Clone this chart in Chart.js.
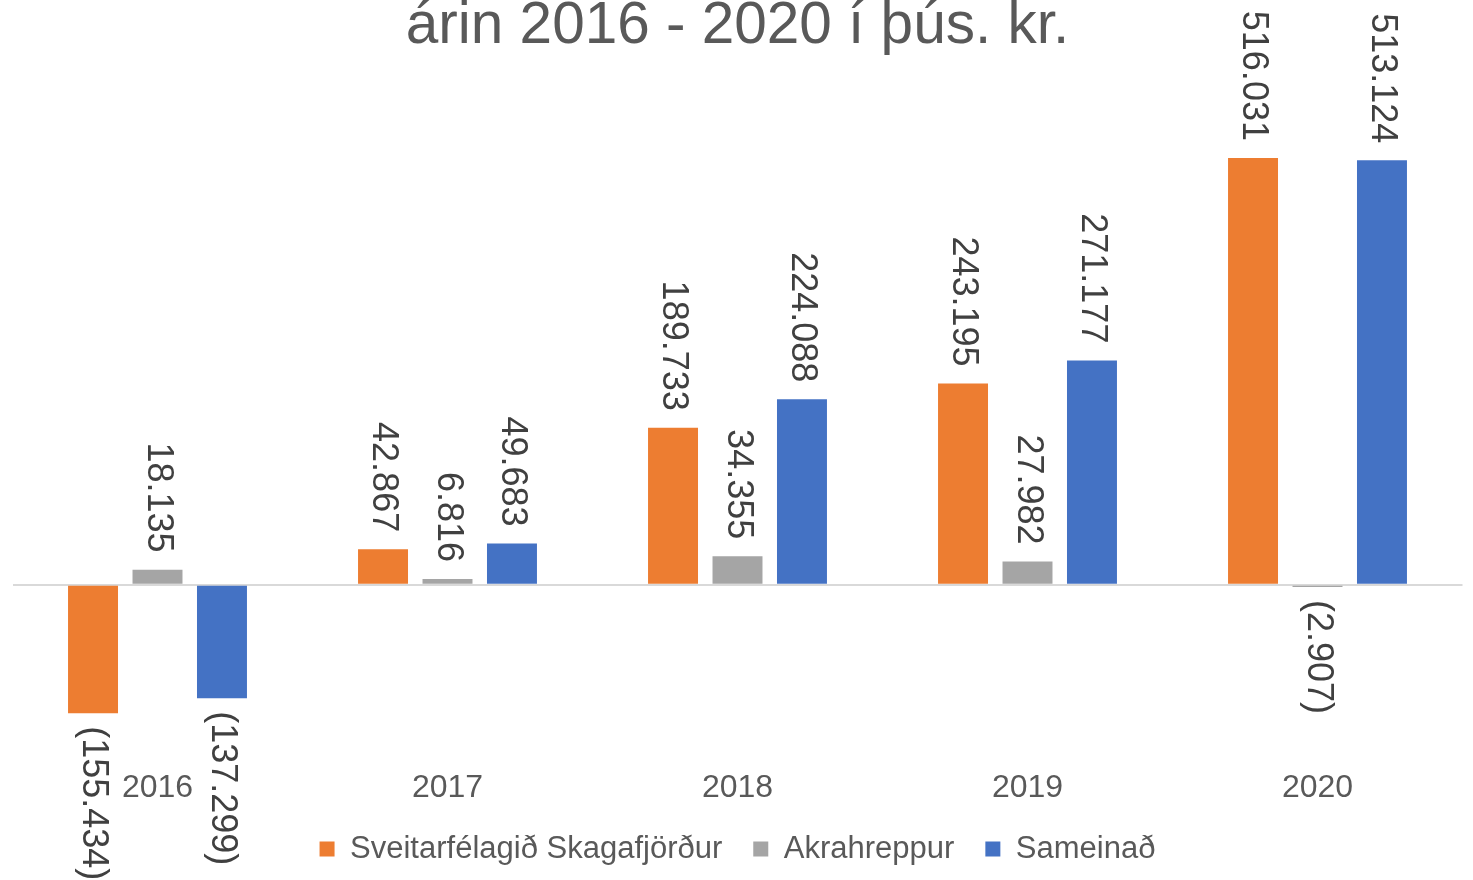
<!DOCTYPE html>
<html><head><meta charset="utf-8">
<script src="https://cdn.jsdelivr.net/npm/chart.js@4"></script>
<style>html,body{margin:0;padding:0;background:#fff}#wrap{width:1473px;height:880px}</style>
</head><body><div id="wrap"><canvas id="c" width="1473" height="880"></canvas></div>
<script>
const titleText = 'árin 2016 - 2020 í þús. kr.';
const categories = ['2016', '2017', '2018', '2019', '2020'];
const seriesNames = ['Sveitarfélagið Skagafjörður', 'Akrahreppur', 'Sameinað'];
const skagafjordur = [-155434, 42867, 189733, 243195, 516031];
const akrahreppur = [18135, 6816, 34355, 27982, -2907];
const sameinad = [-137299, 49683, 224088, 271177, 513124];
const seriesColors = ['#ED7D31', '#A5A5A5', '#4472C4'];
const yMin = -200000, yMax = 600000;

const FONT = '"Liberation Sans", Arial, sans-serif';
const X_AXIS_HEIGHT = 52.5;
const LEGEND_HEIGHT = 77.5;

function fmt(v) {
  const s = Math.abs(v).toString().replace(/\B(?=(\d{3})+(?!\d))/g, '.');
  return v < 0 ? '(' + s + ')' : s;
}

const barLabels = {
  id: 'barLabels',
  afterDatasetsDraw(chart) {
    const ctx = chart.ctx;
    ctx.save();
    ctx.font = '36px ' + FONT;
    ctx.fillStyle = '#404040';
    ctx.textBaseline = 'middle';
    chart.data.datasets.forEach((ds, i) => {
      const meta = chart.getDatasetMeta(i);
      meta.data.forEach((el, j) => {
        const v = ds.data[j];
        ctx.save();
        if (v >= 0) {
          ctx.translate(el.x, el.y - 17);
          ctx.rotate(Math.PI / 2);
          ctx.textAlign = 'right';
        } else {
          ctx.translate(el.x, el.y + 13);
          ctx.rotate(Math.PI / 2);
          ctx.textAlign = 'left';
        }
        ctx.fillText(fmt(v), 0, 0);
        ctx.restore();
      });
    });
    ctx.restore();
  }
};

const legendHeightFix = {
  id: 'legendHeightFix',
  beforeLayout(chart) {
    const lg = chart.legend;
    if (!lg || lg._fixedFit) return;
    const orig = lg.fit.bind(lg);
    lg.fit = function () { orig(); this.height = LEGEND_HEIGHT; };
    lg._fixedFit = true;
  }
};

const seriesData = [skagafjordur, akrahreppur, sameinad];

new Chart(document.getElementById('c'), {
  type: 'bar',
  data: {
    labels: categories,
    datasets: seriesNames.map((name, i) => ({
      label: name,
      data: seriesData[i],
      backgroundColor: seriesColors[i],
      borderWidth: 0,
      categoryPercentage: 0.667,
      barPercentage: 0.775
    }))
  },
  options: {
    responsive: false,
    devicePixelRatio: 1,
    animation: false,
    layout: { padding: { left: 12.5, right: 10.5, top: 0, bottom: 0 } },
    plugins: {
      title: {
        display: true,
        text: titleText,
        color: '#595959',
        font: { family: FONT, size: 58.5, weight: 'normal', lineHeight: 0.913 },
        padding: { top: 0, bottom: 35.1 }
      },
      legend: {
        position: 'bottom',
        labels: {
          color: '#595959',
          font: { family: FONT, size: 31 },
          boxWidth: 15,
          boxHeight: 15,
          padding: 31
        }
      },
      tooltip: { enabled: false }
    },
    scales: {
      x: {
        grid: { display: false, drawTicks: false },
        border: { display: false },
        ticks: {
          color: '#595959',
          font: { family: FONT, size: 32, lineHeight: 0.8 },
          padding: 25.7
        },
        afterFit(scale) { scale.height = X_AXIS_HEIGHT; }
      },
      y: {
        min: yMin,
        max: yMax,
        border: { display: false },
        ticks: { display: false, stepSize: 100000 },
        grid: {
          drawTicks: false,
          lineWidth: 2,
          color: (c) => (c.tick && c.tick.value === 0 ? '#D9D9D9' : 'rgba(0,0,0,0)')
        },
        afterFit(scale) { scale.width = 0; }
      }
    }
  },
  plugins: [barLabels, legendHeightFix]
});
</script>
</body></html>
